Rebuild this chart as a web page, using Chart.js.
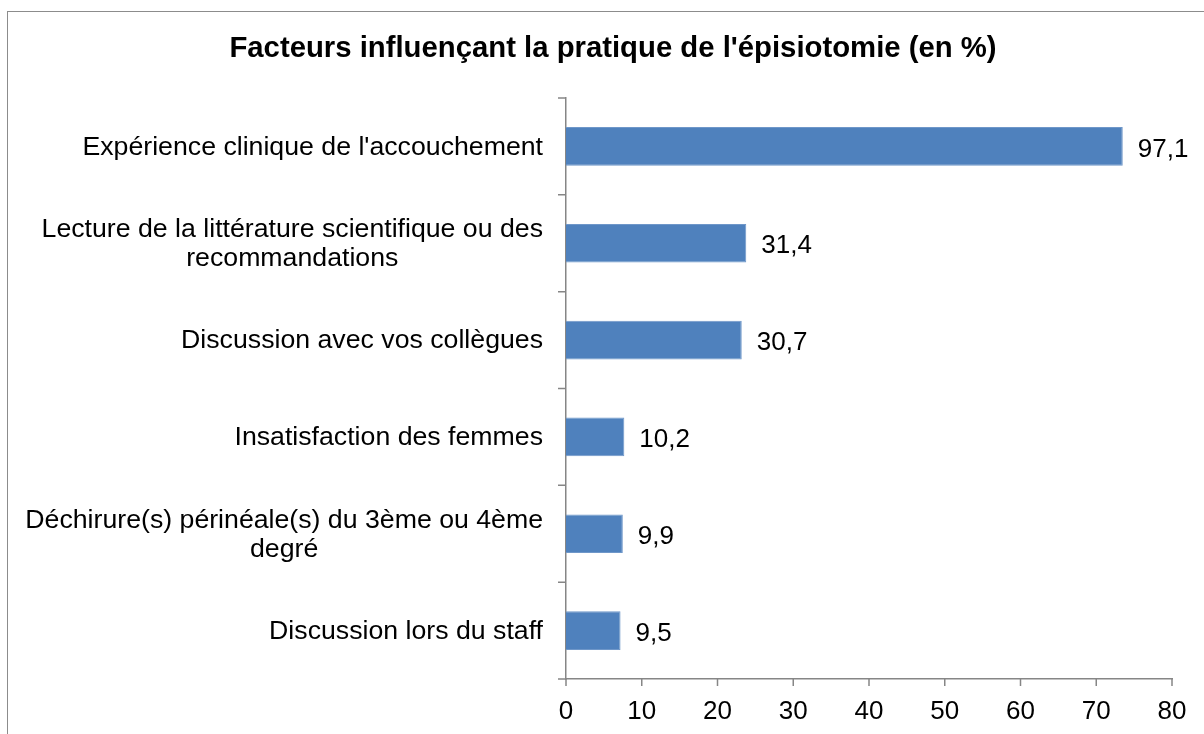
<!DOCTYPE html>
<html>
<head>
<meta charset="utf-8">
<script src="https://cdn.jsdelivr.net/npm/chart.js@4.4.1/dist/chart.umd.min.js"></script>
<style>
  html, body { margin: 0; padding: 0; background: #fff; }
  #wrap { position: relative; width: 1204px; height: 734px; overflow: hidden; }
  #frame { position: absolute; left: 7px; top: 11px; width: 1300px; height: 900px; border: 1px solid #8c8c8c; }
  #c { position: absolute; left: 0; top: 0; }
</style>
</head>
<body>
<div id="wrap">
  <div id="frame"></div>
  <canvas id="c" width="1204" height="734"></canvas>
</div>
<script>
'use strict';

const title = "Facteurs influençant la pratique de l'épisiotomie (en %)";
// categories, top to bottom
const categories = [
  ["Expérience clinique de l'accouchement"],
  ['Lecture de la littérature scientifique ou des', 'recommandations'],
  ['Discussion avec vos collègues'],
  ['Insatisfaction des femmes'],
  ['Déchirure(s) périnéale(s) du 3ème ou 4ème', 'degré'],
  ['Discussion lors du staff'],
];
// bar lengths as read against the x axis
const barValues = [73.5, 23.8, 23.2, 7.7, 7.5, 7.2];
// printed labels next to the bars
const valueLabels = ['97,1', '31,4', '30,7', '10,2', '9,9', '9,5'];
const xTicks = [0, 10, 20, 30, 40, 50, 60, 70, 80];

const FONT = 'Arial, "Liberation Sans", sans-serif';
const AXIS = '#868686';
const LABEL_SIZE = 26.7;

// title drawn by hand so the plot top can be pinned with layout padding
const titleText = {
  id: 'titleText',
  afterDraw(chart) {
    const { ctx } = chart;
    ctx.save();
    ctx.font = `bold 29.3px ${FONT}`;
    ctx.fillStyle = '#000';
    ctx.textAlign = 'center';
    ctx.textBaseline = 'middle';
    ctx.fillText(title, 613, 49);
    ctx.restore();
  }
};

// y labels: right edge fixed, multi-line labels centred on their widest line
const catLabels = {
  id: 'catLabels',
  afterDraw(chart) {
    const { ctx } = chart;
    const y = chart.scales.y;
    const right = y.right - 23;
    const lh = 29;
    ctx.save();
    ctx.font = `${LABEL_SIZE}px ${FONT}`;
    ctx.fillStyle = '#000';
    ctx.textAlign = 'center';
    ctx.textBaseline = 'middle';
    categories.forEach((lines, i) => {
      const w = Math.max(...lines.map(l => ctx.measureText(l).width));
      const cx = right - w / 2;
      const cy = y.getPixelForTick(i) + 1;
      lines.forEach((l, j) => ctx.fillText(l, cx, cy + (j - (lines.length - 1) / 2) * lh));
    });
    ctx.restore();
  }
};

const valueTags = {
  id: 'valueTags',
  afterDatasetsDraw(chart) {
    const { ctx } = chart;
    const meta = chart.getDatasetMeta(0);
    ctx.save();
    ctx.font = `26px ${FONT}`;
    ctx.fillStyle = '#000';
    ctx.textBaseline = 'middle';
    meta.data.forEach((bar, i) => ctx.fillText(valueLabels[i], bar.x + 15, bar.y + 3));
    ctx.restore();
  }
};

// axis tick marks outside the plot, as in the original
const tickMarks = {
  id: 'tickMarks',
  afterDraw(chart) {
    const { ctx } = chart;
    const { x, y } = chart.scales;
    ctx.save();
    ctx.strokeStyle = AXIS;
    ctx.lineWidth = 1.5;
    ctx.beginPath();
    for (let i = 0; i <= categories.length; i++) {
      const py = i === 0 ? y.top : i === categories.length ? y.bottom : (y.getPixelForTick(i - 1) + y.getPixelForTick(i)) / 2;
      ctx.moveTo(y.right - 8, py); ctx.lineTo(y.right, py);
    }
    xTicks.forEach(v => {
      const px = x.getPixelForValue(v);
      ctx.moveTo(px, x.top); ctx.lineTo(px, x.top + 7);
    });
    ctx.stroke();
    ctx.restore();
  }
};

new Chart(document.getElementById('c'), {
  type: 'bar',
  data: {
    labels: categories.map(l => l.join(' ')),
    datasets: [{
      data: barValues,
      backgroundColor: '#4f81bd',
      borderColor: '#6f97c9',
      borderWidth: 1,
      borderSkipped: 'start',
      barPercentage: 0.4,
      categoryPercentage: 1,
    }],
  },
  options: {
    indexAxis: 'y',
    responsive: false,
    animation: false,
    layout: { padding: { top: 98, right: 32, bottom: 0, left: 0 } },
    plugins: {
      legend: { display: false },
      tooltip: { enabled: false },
      title: { display: false },
    },
    scales: {
      x: {
        min: 0, max: 80,
        afterBuildTicks: s => { s.ticks = xTicks.map(v => ({ value: v })); },
        grid: { display: false, drawTicks: true, tickLength: 7, color: AXIS },
        border: { color: AXIS, width: 1.5 },
        ticks: { color: '#000', font: { family: FONT, size: 26 }, padding: 10, maxRotation: 0 },
        afterFit: s => { s.height = 55; },
      },
      y: {
        grid: { display: false, offset: true, tickLength: 8, color: AXIS },
        border: { color: AXIS, width: 1.5 },
        ticks: { display: false },
        afterFit: s => { s.width = 566; },
      },
    },
  },
  plugins: [titleText, catLabels, valueTags, tickMarks],
});
</script>
</body>
</html>
